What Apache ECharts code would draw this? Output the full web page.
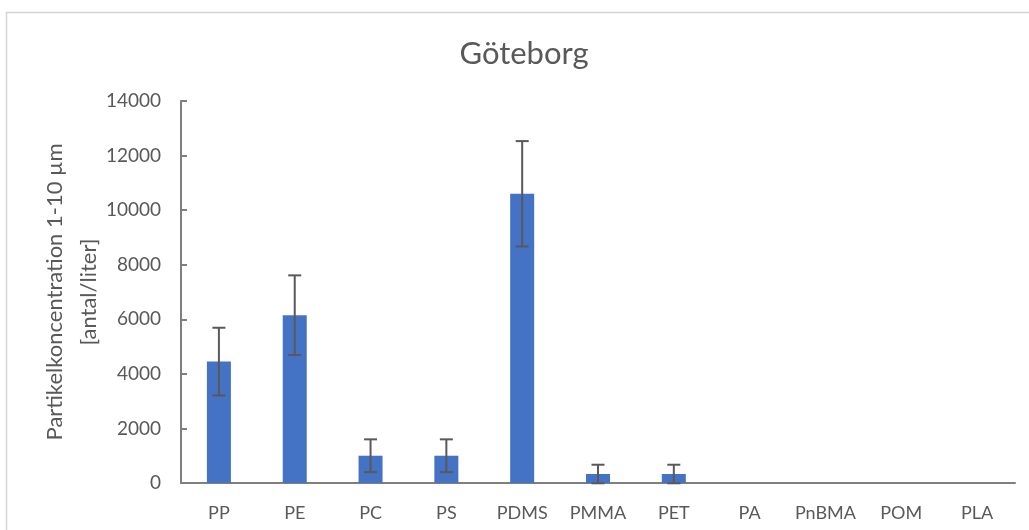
<!DOCTYPE html>
<html>
<head>
<meta charset="utf-8">
<script src="https://cdn.jsdelivr.net/npm/echarts@6/dist/echarts.min.js"></script>
<style>
html,body{margin:0;padding:0;background:#fff;}
#chart{width:1029px;height:530px;}
</style>
</head>
<body>
<div id="chart"></div>
<script>
const categories = ['PP','PE','PC','PS','PDMS','PMMA','PET','PA','PnBMA','POM','PLA'];
const values = [4450, 6150, 1000, 1000, 10600, 330, 330, 0, 0, 0, 0];
const errors = [1240, 1460, 600, 600, 1930, 340, 340, 0, 0, 0, 0];
const yTicks = {min: 0, max: 14000, interval: 2000};
const yName = ['Partikelkoncentration 1-10 µm', '[antal/liter]'];

const errData = [];
values.forEach((v, i) => {
  if (errors[i] > 0) errData.push([i, v - errors[i], v + errors[i]]);
});

const font = 'Lato, "Open Sans", sans-serif';
const txt = '#595959';

const chart = echarts.init(document.getElementById('chart'));
chart.setOption({
  animation: false,
  backgroundColor: '#fff',
  graphic: [{
    type: 'rect', left: 4, top: 10, z: -1,
    shape: {width: 1040, height: 540},
    style: {fill: 'none', stroke: '#d4d4d4', lineWidth: 1.5}
  }, {
    type: 'text', x: 72, y: 292, rotation: Math.PI / 2,
    style: {
      text: yName.join('\n'), fontFamily: font, fontSize: 22, fill: txt,
      lineHeight: 34, align: 'center', verticalAlign: 'middle'
    }
  }],
  title: {
    text: 'Göteborg', left: 519, textAlign: 'center', top: 33,
    textStyle: {fontFamily: font, fontSize: 31, fontWeight: 'normal', color: txt}
  },
  grid: {left: 181, right: 14, top: 101, bottom: 47},
  xAxis: {
    type: 'category', data: categories,
    axisLine: {lineStyle: {color: '#7f7f7f', width: 2}},
    axisTick: {show: false},
    axisLabel: {fontFamily: font, fontSize: 18, color: txt, margin: 21, interval: 0}
  },
  yAxis: {
    type: 'value', min: yTicks.min, max: yTicks.max, interval: yTicks.interval,
    axisLine: {show: true, lineStyle: {color: '#7f7f7f', width: 2}},
    axisTick: {show: true, inside: true, length: 6, lineStyle: {color: '#7f7f7f', width: 2}},
    splitLine: {show: false},
    axisLabel: {fontFamily: font, fontSize: 19, color: txt, margin: 20,
      formatter: v => String(v)}
  },
  series: [{
    type: 'bar', data: values, barWidth: 24,
    itemStyle: {color: '#4472C4'}
  }, {
    type: 'custom', data: errData, z: 10,
    renderItem: function (params, api) {
      const i = api.value(0);
      const lo = api.coord([i, api.value(1)]);
      const hi = api.coord([i, api.value(2)]);
      const hw = 6.5;
      const st = {stroke: '#595959', lineWidth: 2};
      return {type: 'group', children: [
        {type: 'line', shape: {x1: lo[0], y1: lo[1], x2: hi[0], y2: hi[1]}, style: st},
        {type: 'line', shape: {x1: hi[0]-hw, y1: hi[1], x2: hi[0]+hw, y2: hi[1]}, style: st},
        {type: 'line', shape: {x1: lo[0]-hw, y1: lo[1], x2: lo[0]+hw, y2: lo[1]}, style: st}
      ]};
    }
  }]
});
</script>
</body>
</html>
